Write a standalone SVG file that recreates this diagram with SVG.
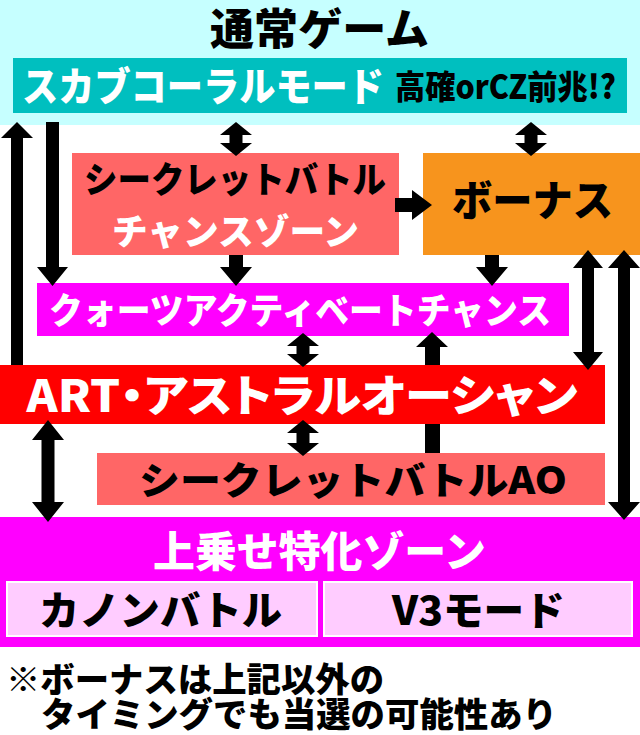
<svg xmlns="http://www.w3.org/2000/svg" width="640" height="735" viewBox="0 0 640 735">
<style>
text{font-family:"Noto Sans CJK JP","Noto Sans",sans-serif;font-weight:900;}
.w{fill:#ffffff;}
.b{fill:#000000;}
.arr{fill:#000000;}
.palt{font-feature-settings:"palt" 1;}
</style>
<rect x="0" y="0" width="640" height="735" fill="#ffffff"/>
<g id="normal-game">
<rect x="0" y="0" width="640" height="125" fill="#c6ffff"/>
<text class="b" x="319.5" y="45" font-size="43" text-anchor="middle" textLength="219" lengthAdjust="spacingAndGlyphs">通常ゲーム</text>
</g>
<g id="scab-coral">
<rect x="13" y="58" width="614" height="55" fill="#00bfbf"/>
<text class="w" x="22" y="100.5" font-size="40" textLength="362" lengthAdjust="spacingAndGlyphs">スカブコーラルモード</text>
<text class="b" x="395" y="99" font-size="33" textLength="221" lengthAdjust="spacingAndGlyphs">高確orCZ前兆!?</text>
</g>
<g id="secret-battle-chance">
<rect x="72" y="153" width="327" height="102" fill="#ff6666"/>
<text class="b" x="235" y="193" font-size="36" text-anchor="middle" textLength="302" lengthAdjust="spacingAndGlyphs">シークレットバトル</text>
<text class="w" x="235.5" y="245" font-size="36" text-anchor="middle" textLength="247" lengthAdjust="spacingAndGlyphs">チャンスゾーン</text>
</g>
<g id="bonus">
<rect x="423" y="153" width="217" height="102" fill="#f7941d"/>
<text class="b" x="532.5" y="216" font-size="42" text-anchor="middle" textLength="161" lengthAdjust="spacingAndGlyphs">ボーナス</text>
</g>
<g id="quartz">
<rect x="37" y="283" width="532" height="53" fill="#ff00ff"/>
<text class="w" x="300" y="324" font-size="36" text-anchor="middle" textLength="502" lengthAdjust="spacingAndGlyphs">クォーツアクティベートチャンス</text>
</g>
<g id="art">
<rect x="0" y="365" width="605" height="59" fill="#ff0000"/>
<text class="w palt" x="302" y="412" font-size="44" text-anchor="middle" textLength="551" lengthAdjust="spacingAndGlyphs">ART・アストラルオーシャン</text>
</g>
<g id="secret-battle-ao">
<rect x="97" y="453" width="508" height="52" fill="#ff6666"/>
<text class="b" x="353" y="494" font-size="38" text-anchor="middle" textLength="428" lengthAdjust="spacingAndGlyphs">シークレットバトルAO</text>
</g>
<g id="uwanose">
<rect x="0" y="517" width="640" height="130" fill="#ff00ff"/>
<text class="w" x="319.5" y="567" font-size="42" text-anchor="middle" textLength="333" lengthAdjust="spacingAndGlyphs">上乗せ特化ゾーン</text>
</g>
<g id="canon-battle">
<rect x="7" y="582" width="310" height="54" fill="#ffccff" stroke="#ffffff" stroke-width="2"/>
<text class="b" x="160.5" y="625" font-size="40" text-anchor="middle" textLength="243" lengthAdjust="spacingAndGlyphs">カノンバトル</text>
</g>
<g id="v3-mode">
<rect x="324" y="582" width="308" height="54" fill="#ffccff" stroke="#ffffff" stroke-width="2"/>
<text class="b" x="478.5" y="625" font-size="40" text-anchor="middle" textLength="173" lengthAdjust="spacingAndGlyphs">V3モード</text>
</g>
<g id="note">
<text class="b" x="6" y="691.5" font-size="34" textLength="378" lengthAdjust="spacingAndGlyphs">※ボーナスは上記以外の</text>
<text class="b" x="41" y="726.5" font-size="34" textLength="516" lengthAdjust="spacingAndGlyphs">タイミングでも当選の可能性あり</text>
</g>
<g id="connectors">
<polygon class="arr" points="17,122 33,138 23,138 23,365 11,365 11,138 1,138"/>
<polygon class="arr" points="46,122 59,122 59,267 68,267 52.5,286 37,267 46,267"/>
<polygon class="arr" points="236,122 252,135 242.5,135 242.5,143 252,143 236,156 220,143 229.5,143 229.5,135 220,135"/>
<polygon class="arr" points="531,122 547,135 537.5,135 537.5,143 547,143 531,156 515,143 524.5,143 524.5,135 515,135"/>
<polygon class="arr" points="395,198 412,198 412,190 432,205 412,220 412,212 395,212"/>
<polygon class="arr" points="229,255 243,255 243,267 252,267 236,286 220,267 229,267"/>
<polygon class="arr" points="485,255 499,255 499,267 508,267 492,286 476,267 485,267"/>
<polygon class="arr" points="588,250 603,268 594,268 594,352 603,352 588,370 573,352 582,352 582,268 573,268"/>
<polygon class="arr" points="624,250 640,268 630,268 630,502 640,502 624,520 608,502 618,502 618,268 608,268"/>
<polygon class="arr" points="303,333 319,346 309.5,346 309.5,354 319,354 303,367 287,354 296.5,354 296.5,346 287,346"/>
<polygon class="arr" points="303,420 319,433 309.5,433 309.5,443 319,443 303,456 287,443 296.5,443 296.5,433 287,433"/>
<polygon class="arr" points="432,332 448,347 440,347 440,365 425,365 425,347 416,347"/>
<rect class="arr" x="425" y="424" width="15" height="29"/>
<polygon class="arr" points="48,420 64,440 54.5,440 54.5,502 64,502 48,522 32,502 41.5,502 41.5,440 32,440"/>
</g>
</svg>
